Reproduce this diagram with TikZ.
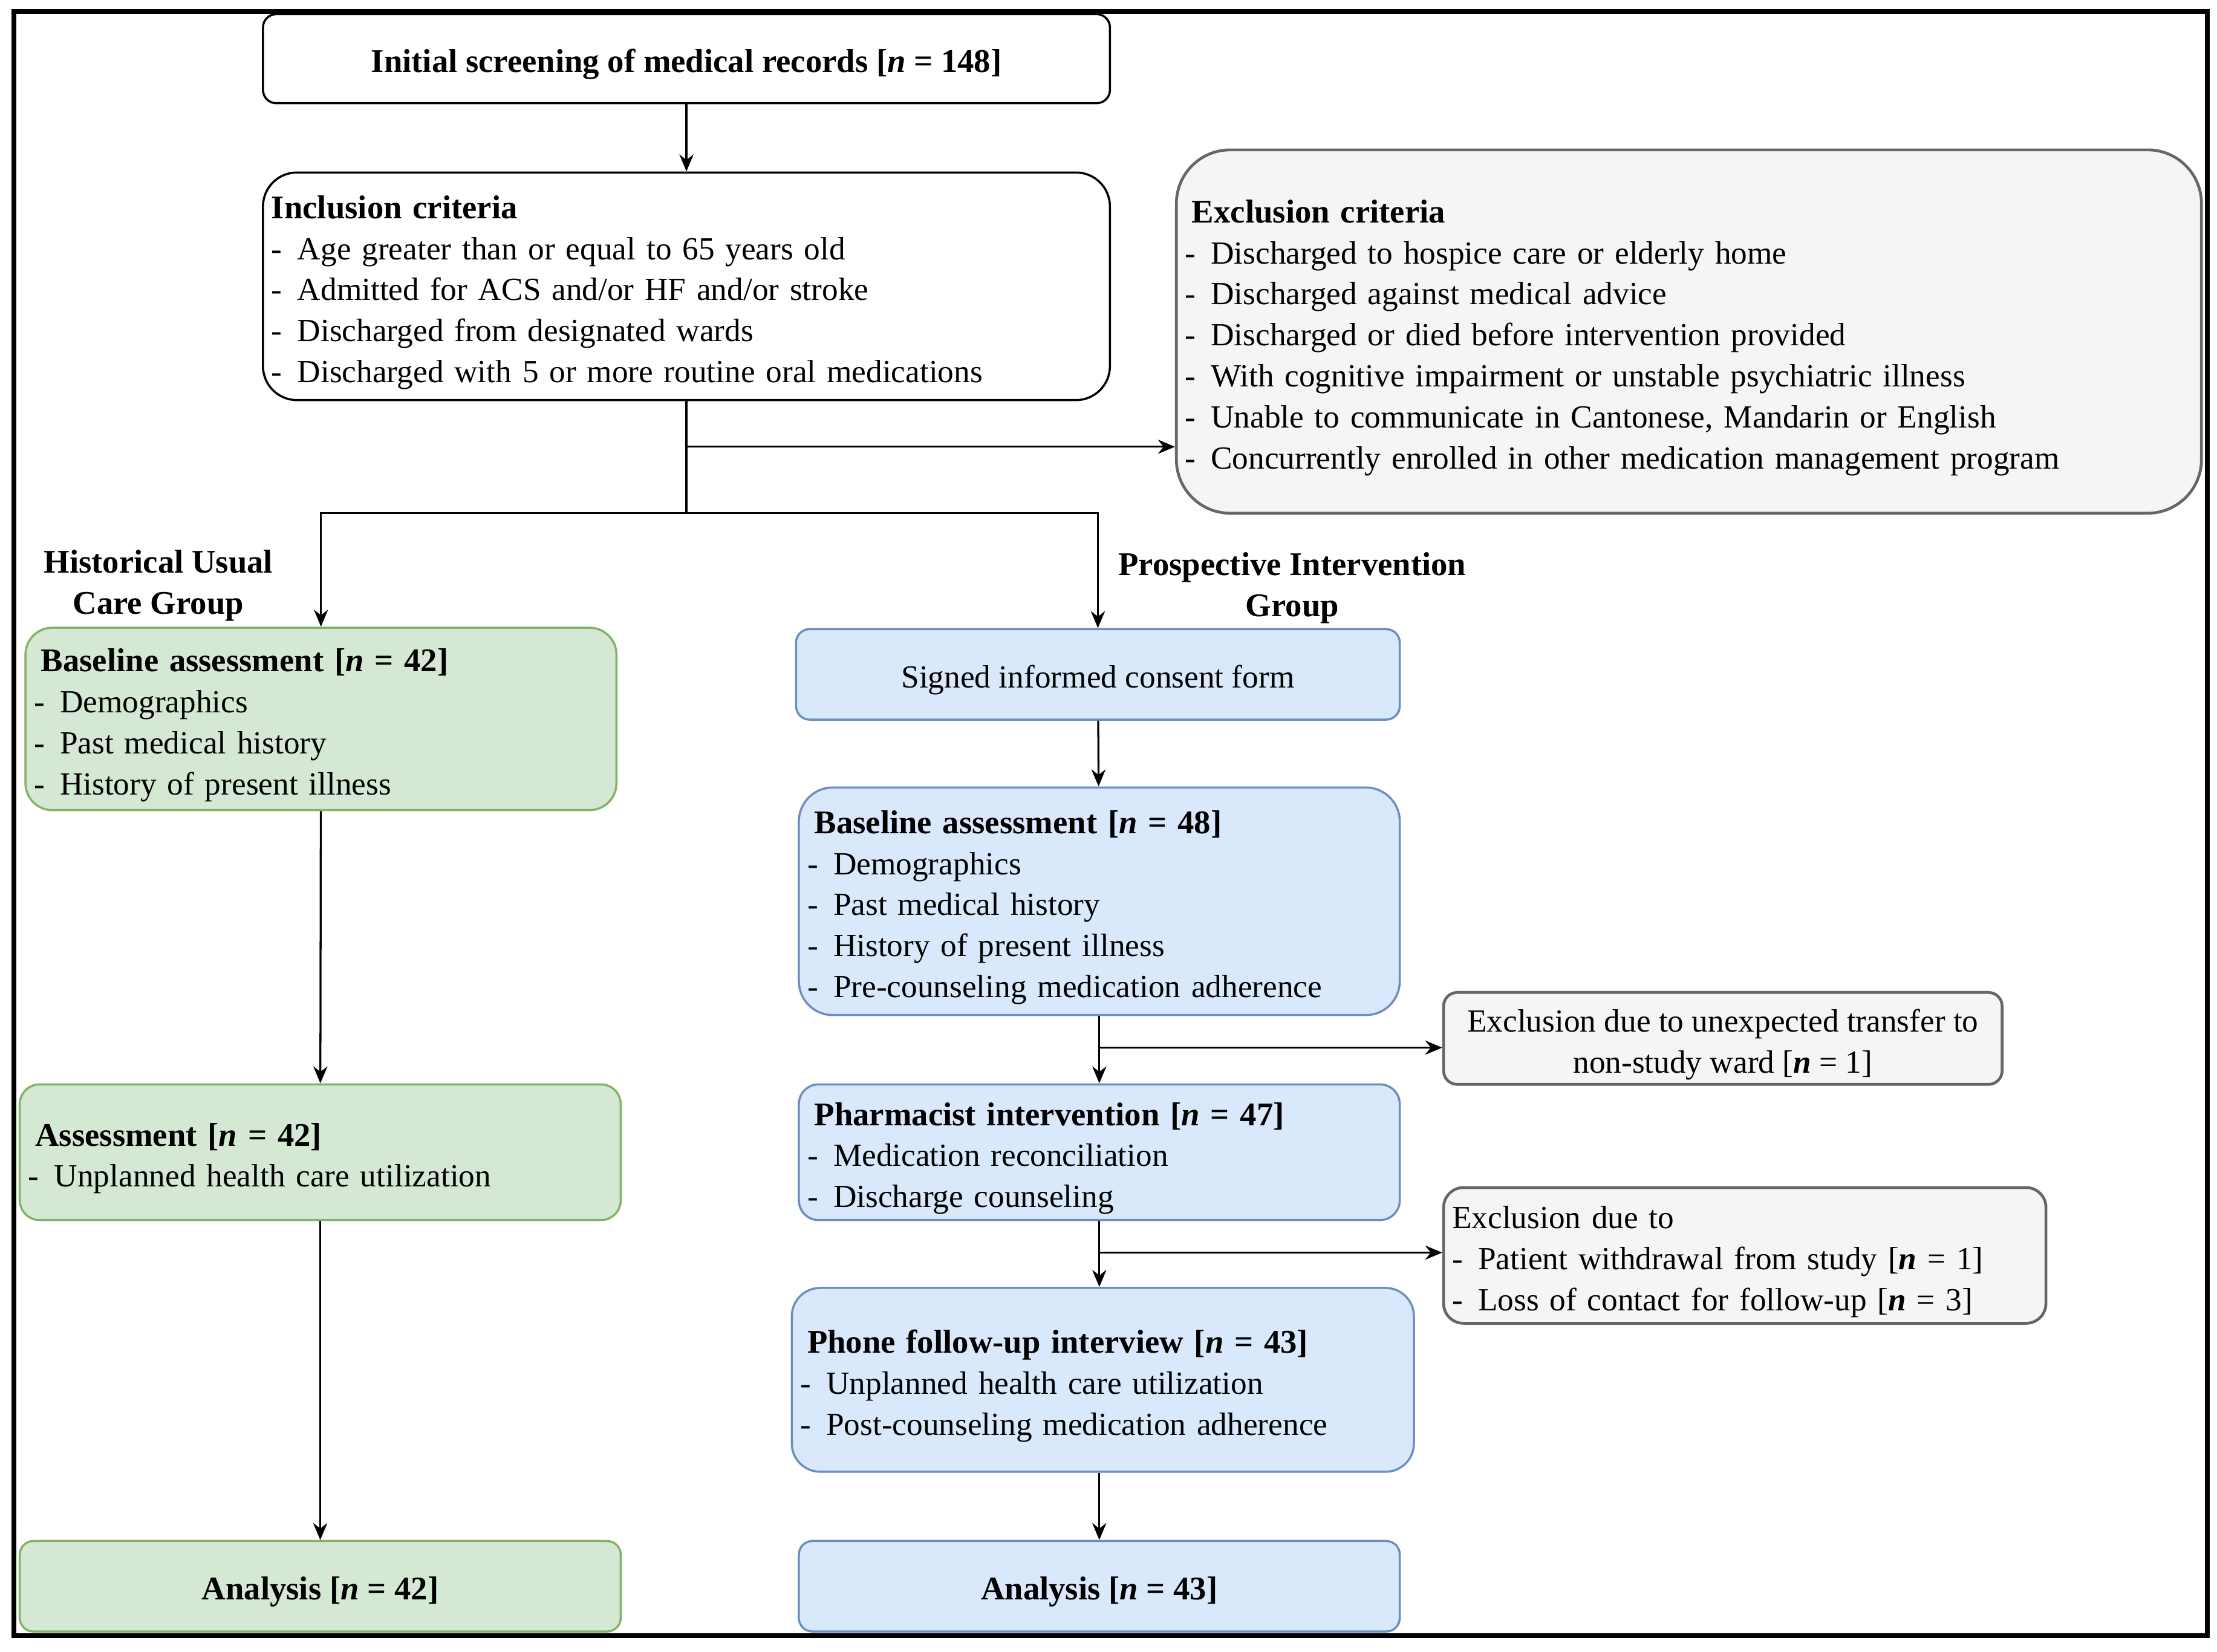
\documentclass[tikz,border=0pt]{standalone}
\usepackage{fontspec}
\setmainfont{Liberation Serif}
\usetikzlibrary{arrows.meta,calc}
\definecolor{gfill}{HTML}{D5E8D4}
\definecolor{gdraw}{HTML}{82B366}
\definecolor{bfill}{HTML}{DAE8FC}
\definecolor{bdraw}{HTML}{6C8EBF}
\definecolor{xfill}{HTML}{F5F5F5}
\definecolor{xdraw}{HTML}{666666}
\newcommand{\itm}[1]{\makebox[9.2pt][l]{-}#1}
\newcommand{\nn}{\textbf{\textit{n}}}
\newcommand{\tb}[1]{{\fontsize{11.7}{14.5}\selectfont\bfseries #1}}
\begin{document}
\begin{tikzpicture}[x=0.5pt,y=-0.5pt,
  box/.style={draw, line width=0.75pt, inner xsep=3pt, inner ysep=0pt,
    font=\fontsize{11.4}{14.5}\selectfont},
  lbox/.style={box, align=left},
  cbox/.style={box, align=center},
  whitebox/.style={fill=white, draw=black},
  greenbox/.style={fill=gfill, draw=gdraw},
  bluebox/.style={fill=bfill, draw=bdraw},
  graybox/.style={fill=xfill, draw=xdraw, line width=1pt},
  grp/.style={font=\fontsize{11.7}{14.5}\selectfont\bfseries, align=center, inner sep=0pt},
  arr/.style={draw=black, line width=0.7pt, -{Stealth[length=6pt,width=5pt]}},
  ln/.style={draw=black, line width=0.7pt}]
\useasboundingbox (0,0) rectangle (1568,1168.5);
\fill[white] (0,0) rectangle (1568,1168.5);
\draw[line width=1.75pt] (10,8) rectangle (1561,1157);

% top
\node[cbox, whitebox, rounded corners=4.7pt, minimum width=299.5pt, minimum height=31.5pt] (init) at (485.5,41.5)
  {\rule{0pt}{12pt}\tb{Initial screening of medical records [\nn{} = 148]}};
\node[lbox, whitebox, rounded corners=12pt, text width=293.5pt, minimum height=80.5pt] (incl) at (485.5,202.5)
  {\rule{0pt}{12.5pt}\tb{Inclusion criteria}\\
   \itm{Age greater than or equal to 65 years old}\\
   \itm{Admitted for ACS and/or HF and/or stroke}\\
   \itm{Discharged from designated wards}\\
   \itm{Discharged with 5 or more routine oral medications}};
\node[lbox, graybox, rounded corners=19pt, text width=356.5pt, minimum height=128.5pt] (excl) at (1194.5,234.5)
  {\rule{0pt}{12.5pt}\hspace*{2.5pt}\tb{Exclusion criteria}\\
   \itm{Discharged to hospice care or elderly home}\\
   \itm{Discharged against medical advice}\\
   \itm{Discharged or died before intervention provided}\\
   \itm{With cognitive impairment or unstable psychiatric illness}\\
   \itm{Unable to communicate in Cantonese, Mandarin or English}\\
   \itm{Concurrently enrolled in other medication management program}};

% group labels
\node[grp] (hlab) at (112,414) {Historical Usual\\Care Group};
\node[grp] (plab) at (914,416) {Prospective Intervention\\Group};

% left column
\node[lbox, greenbox, rounded corners=9.5pt, text width=203pt, minimum height=64.5pt] (base1) at (227,508.5)
  {\rule{0pt}{12.5pt}\hspace*{2.5pt}\tb{Baseline assessment [\nn{} = 42]}\\
   \itm{Demographics}\\
   \itm{Past medical history}\\
   \itm{History of present illness}};
\node[lbox, greenbox, rounded corners=7pt, text width=206.5pt, minimum height=48pt] (assess1) at (226.5,815)
  {\rule{0pt}{12.5pt}\hspace*{2.5pt}\tb{Assessment [\nn{} = 42]}\\
   \itm{Unplanned health care utilization}};
\node[cbox, greenbox, rounded corners=4.8pt, minimum width=212.5pt, minimum height=32pt] (anal1) at (226.5,1122)
  {\rule{0pt}{12pt}\tb{Analysis [\nn{} = 42]}};

% right column
\node[cbox, bluebox, rounded corners=4.8pt, minimum width=213.5pt, minimum height=32pt] (consent) at (776.5,477)
  {\rule{0pt}{12pt}Signed informed consent form};
\node[lbox, bluebox, rounded corners=12pt, text width=206.5pt, minimum height=80.5pt] (base2) at (777.5,637.5)
  {\rule{0pt}{12.5pt}\hspace*{2.5pt}\tb{Baseline assessment [\nn{} = 48]}\\
   \itm{Demographics}\\
   \itm{Past medical history}\\
   \itm{History of present illness}\\
   \itm{Pre-counseling medication adherence}};
\node[lbox, bluebox, rounded corners=7pt, text width=206.5pt, minimum height=48pt] (pharm) at (777.5,815)
  {\rule{0pt}{12.5pt}\hspace*{2.5pt}\tb{Pharmacist intervention [\nn{} = 47]}\\
   \itm{Medication reconciliation}\\
   \itm{Discharge counseling}};
\node[lbox, bluebox, rounded corners=10pt, text width=214pt, minimum height=65pt] (phone) at (780,976)
  {\rule{0pt}{12.5pt}\hspace*{2.5pt}\tb{Phone follow-up interview [\nn{} = 43]}\\
   \itm{Unplanned health care utilization}\\
   \itm{Post-counseling medication adherence}};
\node[cbox, bluebox, rounded corners=4.8pt, minimum width=212.5pt, minimum height=32pt] (anal2) at (777.5,1122)
  {\rule{0pt}{12pt}\tb{Analysis [\nn{} = 43]}};

% side exclusions
\node[cbox, graybox, rounded corners=4.8pt, minimum width=197.5pt, minimum height=32.5pt] (ex1) at (1218.5,734.5)
  {\rule{0pt}{12.5pt}Exclusion due to unexpected transfer to\\non-study ward [\nn{} = 1]};
\node[lbox, graybox, rounded corners=7pt, text width=207pt, minimum height=48pt] (ex2) at (1234,888)
  {\rule{0pt}{12.5pt}Exclusion due to\\
   \itm{Patient withdrawal from study [\nn{} = 1]}\\
   \itm{Loss of contact for follow-up [\nn{} = 3]}};

% connectors
\coordinate (j1) at (485.5,363);
\coordinate (b1) at (485.5,316);
\coordinate (b2) at (777.5,741);
\coordinate (b3) at (777.5,886);
\draw[arr] (init) -- (incl);
\draw[ln] (incl.south) -- (j1);
\draw[arr] (b1) -- (b1 -| excl.west);
\draw[arr] (j1) -| (base1.north);
\draw[arr] (j1) -| (consent.north);
\draw[arr] (base1) -- (assess1);
\draw[arr] (assess1) -- (anal1);
\draw[arr] (consent) -- (base2);
\draw[arr] (base2) -- (pharm);
\draw[arr] (b2) -- (b2 -| ex1.west);
\draw[arr] (pharm) -- (phone.north -| pharm.south);
\draw[arr] (b3) -- (b3 -| ex2.west);
\draw[arr] (phone.south -| anal2.north) -- (anal2.north);
\end{tikzpicture}
\end{document}
